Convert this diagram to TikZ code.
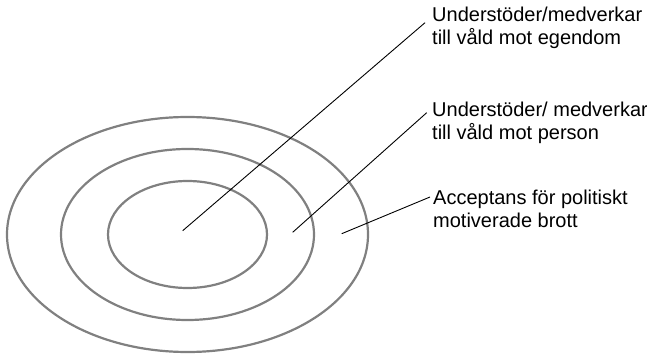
\documentclass[tikz,border=0pt]{standalone}
\usepackage{fontspec}
\setmainfont{Liberation Sans}
\begin{document}
\begin{tikzpicture}[x=1pt,y=-1pt,
  ring/.style={draw=black!50,line width=2.2pt},
  lbl/.style={anchor=base west,inner sep=0pt,align=left,font=\fontsize{20}{23}\selectfont},
  lead/.style={draw=black,line width=0.9pt}]
\useasboundingbox (0,0) rectangle (647,355);
\coordinate (c) at (187.5,234.5);
\draw[ring] (c) ellipse [x radius=180.5, y radius=117.5];
\draw[ring] (c) ellipse [x radius=126.5, y radius=85.5];
\draw[ring] (c) ellipse [x radius=79.5, y radius=53.5];
\node[lbl] (l1) at (432,45) {Understöder/medverkar\\till våld mot egendom};
\node[lbl] (l2) at (432,140) {Understöder/ medverkar\\till våld mot person};
\node[lbl] (l3) at (433,227.5) {Acceptans för politiskt\\motiverade brott};
\coordinate (p1) at (182.7,230.7);
\coordinate (p2) at (292.7,232.3);
\coordinate (p3) at (341.7,233.7);
\coordinate (q1) at (425,22.7);
\coordinate (q2) at (426.7,112.7);
\coordinate (q3) at (430,197);
\draw[lead] (p1) -- (q1);
\draw[lead] (p2) -- (q2);
\draw[lead] (p3) -- (q3);
\end{tikzpicture}
\end{document}
